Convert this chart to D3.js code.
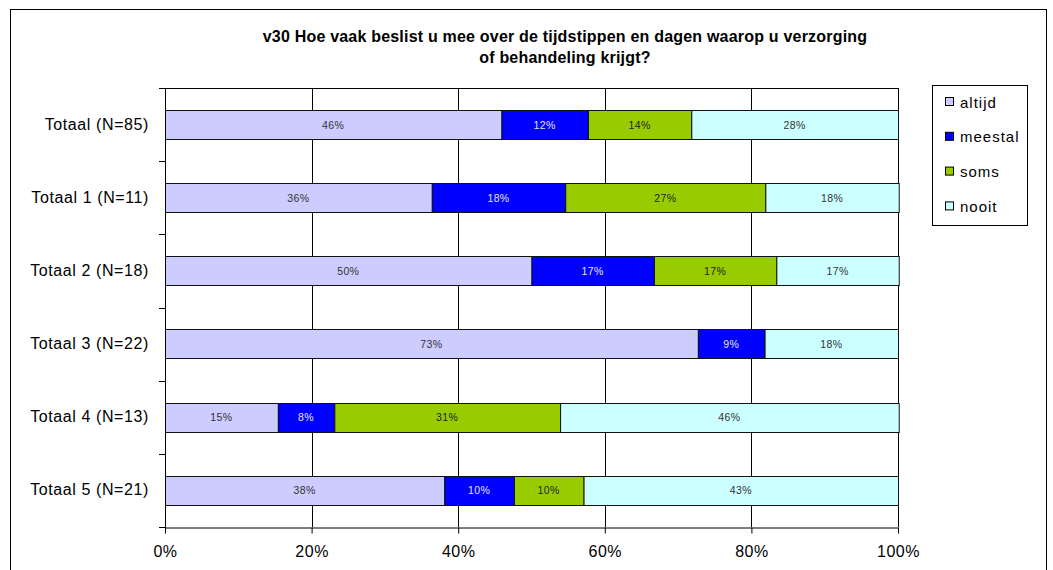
<!DOCTYPE html>
<html>
<head>
<meta charset="utf-8">
<title>v30</title>
<script src="https://d3js.org/d3.v7.min.js"></script>
<style>
  body { margin: 0; background: #fff; }
  svg { display: block; font-family: "Liberation Sans", Arial, sans-serif; }
</style>
</head>
<body>
<div id="chart"></div>
<script>
  const width = 1053, height = 570;

  // data (percentages per group)
  const categories = ["Totaal (N=85)", "Totaal 1 (N=11)", "Totaal 2 (N=18)", "Totaal 3 (N=22)", "Totaal 4 (N=13)", "Totaal 5 (N=21)"];
  const seriesNames = ["altijd", "meestal", "soms", "nooit"];
  const altijd  = [45.9, 36.4, 50.0, 72.7, 15.4, 38.1];
  const meestal = [11.8, 18.2, 16.7,  9.1,  7.7,  9.5];
  const soms    = [14.1, 27.3, 16.7,  0.0, 30.8,  9.5];
  const nooit   = [28.2, 18.2, 16.7, 18.2, 46.2, 42.9];
  const xTicks = [0, 20, 40, 60, 80, 100];
  const colors = ["#ccccff", "#0000ff", "#99cc00", "#ccffff"];
  const labelColors = ["#333", "#e6e6ff", "#222", "#333"];

  const margin = {left: 165, right: 898, top: 88, bottom: 527};

  const table = categories.map(function(c, i) {
    return {cat: c, altijd: altijd[i], meestal: meestal[i], soms: soms[i], nooit: nooit[i]};
  });
  const stacked = d3.stack().keys(seriesNames)(table);

  const x = d3.scaleLinear().domain([0, 100]).range([margin.left, margin.right]);
  const y = d3.scaleBand().domain(categories).range([margin.top, margin.bottom]).paddingInner(0.6).paddingOuter(0.3);
  const yb = d3.scaleBand().domain(categories).range([margin.top, margin.bottom]);

  const svg = d3.select("#chart").append("svg")
    .attr("width", width)
    .attr("height", height);

  // outer frame
  svg.append("rect")
    .attr("x", 10.5).attr("y", 9.5)
    .attr("width", 1036).attr("height", 600)
    .attr("fill", "none").attr("stroke", "#000");

  // title
  const title = svg.append("text")
    .attr("text-anchor", "middle")
    .attr("font-weight", "bold")
    .attr("font-size", "16px")
    .attr("letter-spacing", "0.2px")
    .attr("fill", "#000");
  title.append("tspan").attr("x", 565).attr("y", 42).text("v30 Hoe vaak beslist u mee over de tijdstippen en dagen waarop u verzorging");
  title.append("tspan").attr("x", 565).attr("y", 63).text("of behandeling krijgt?");

  // gridlines
  svg.append("g").selectAll("line")
    .data(xTicks.slice(1))
    .enter().append("line")
      .attr("x1", function(d) { return Math.round(x(d)) + 0.5; })
      .attr("x2", function(d) { return Math.round(x(d)) + 0.5; })
      .attr("y1", margin.top).attr("y2", margin.bottom)
      .attr("stroke", "#000").attr("stroke-width", 1);

  // top border of plot area
  svg.append("line")
    .attr("x1", margin.left).attr("x2", margin.right + 1)
    .attr("y1", margin.top + 0.5).attr("y2", margin.top + 0.5)
    .attr("stroke", "#000");

  // bars
  const groups = svg.append("g").selectAll("g")
    .data(stacked)
    .enter().append("g")
      .attr("fill", function(d, i) { return colors[i]; });

  groups.selectAll("rect")
    .data(function(d) { return d.filter(function(p) { return p[1] - p[0] > 0; }); })
    .enter().append("rect")
      .attr("x", function(d) { return x(d[0]) + 0.5; })
      .attr("y", function(d) { return Math.round(y(d.data.cat)) + 0.5; })
      .attr("width", function(d) { return x(d[1]) - x(d[0]); })
      .attr("height", Math.round(y.bandwidth()))
      .attr("stroke", "#111").attr("stroke-width", 1);

  groups.selectAll("text")
    .data(function(d, i) { return d.filter(function(p) { return p[1] - p[0] > 0; }).map(function(p) { p.si = i; return p; }); })
    .enter().append("text")
      .attr("x", function(d) { return x((d[0] + d[1]) / 2); })
      .attr("y", function(d) { return y(d.data.cat) + y.bandwidth() / 2 + 4; })
      .attr("text-anchor", "middle")
      .attr("font-size", "10.5px")
      .attr("letter-spacing", "0.4px")
      .attr("fill", function(d) { return labelColors[d.si]; })
      .text(function(d) { return Math.round(d[1] - d[0]) + "%"; });

  // y axis
  const yAxis = svg.append("g");
  yAxis.append("line")
    .attr("x1", margin.left + 0.5).attr("x2", margin.left + 0.5)
    .attr("y1", margin.top).attr("y2", margin.bottom + 6)
    .attr("stroke", "#000");
  yAxis.selectAll("line.tick")
    .data(categories.concat(["end"]))
    .enter().append("line")
      .attr("class", "tick")
      .attr("x1", margin.left - 6).attr("x2", margin.left)
      .attr("y1", function(d, i) { return Math.round(i < categories.length ? yb(d) : margin.bottom) + 0.5; })
      .attr("y2", function(d, i) { return Math.round(i < categories.length ? yb(d) : margin.bottom) + 0.5; })
      .attr("stroke", "#000");
  yAxis.selectAll("text")
    .data(categories)
    .enter().append("text")
      .attr("x", 149)
      .attr("y", function(d) { return yb(d) + yb.bandwidth() / 2 + 5; })
      .attr("text-anchor", "end")
      .attr("font-size", "16px")
      .attr("letter-spacing", "0.6px")
      .attr("fill", "#000")
      .text(function(d) { return d; });

  // x axis
  const xAxis = svg.append("g")
    .attr("transform", "translate(0," + (margin.bottom + 0.5) + ")")
    .call(d3.axisBottom(x).tickValues(xTicks).tickSize(6).tickSizeOuter(0).tickPadding(12)
      .tickFormat(function(d) { return d + "%"; }));
  xAxis.select(".domain").attr("stroke", "#000");
  xAxis.selectAll(".tick line").attr("stroke", "#000");
  xAxis.selectAll(".tick text")
    .attr("font-size", "16px")
    .attr("letter-spacing", "0.5px")
    .attr("font-family", "Liberation Sans, Arial, sans-serif")
    .attr("fill", "#000");

  // legend
  const legend = svg.append("g");
  legend.append("rect")
    .attr("x", 932.5).attr("y", 85.5)
    .attr("width", 95).attr("height", 140)
    .attr("fill", "#fff").attr("stroke", "#000");
  const items = legend.selectAll("g.item")
    .data(seriesNames)
    .enter().append("g")
      .attr("class", "item")
      .attr("transform", function(d, i) { return "translate(945," + (102 + i * 34.8) + ")"; });
  items.append("rect")
    .attr("x", 0.5).attr("y", -4.5)
    .attr("width", 8).attr("height", 8)
    .attr("fill", function(d, i) { return colors[i]; })
    .attr("stroke", "#000");
  items.append("text")
    .attr("x", 15).attr("y", 5.5)
    .attr("font-size", "15px")
    .attr("letter-spacing", "1px")
    .attr("fill", "#000")
    .text(function(d) { return d; });
</script>
</body>
</html>
